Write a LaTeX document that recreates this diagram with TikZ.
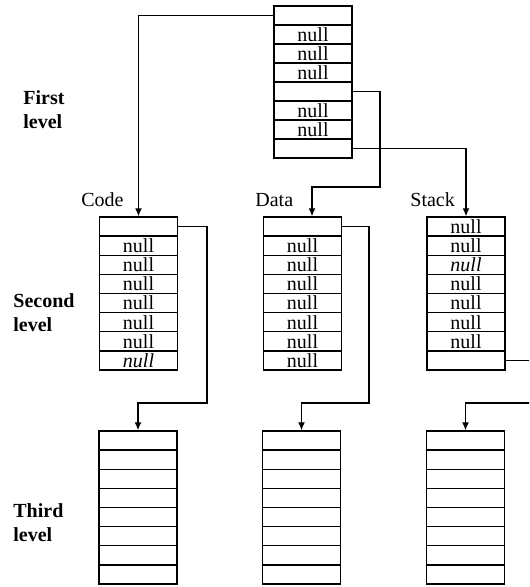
\documentclass[tikz,border=0pt]{standalone}
\usepackage{fontspec}
\setmainfont{Liberation Serif}
\usetikzlibrary{arrows.meta}
\begin{document}
\begin{tikzpicture}[x=0.5pt,y=-0.5pt,
  cell/.style={draw, rectangle, minimum width=39pt, minimum height=9.56pt,
    inner sep=0pt, line width=0.7pt, font=\fontsize{10}{12}\selectfont},
  ptr/.style={draw, line width=0.6pt, -{Latex[length=4pt,width=3.4pt]}},
  lvl/.style={font=\fontsize{10}{12}\selectfont\bfseries, align=left,
    anchor=north west, inner sep=0pt},
  seg/.style={font=\fontsize{10}{12}\selectfont, anchor=base west, inner sep=0pt}]
\useasboundingbox (0,0) rectangle (529,587);
\clip (0,0) rectangle (529,587);

% first-level table
\foreach \i/\t in {1/{},2/null,3/null,4/null,5/{},6/null,7/null,8/{}}
  \node[cell] (top-\i) at (313,{6+19*(\i-0.5)}) {\t};

% second-level tables
\foreach \i/\t in {1/{},2/null,3/null,4/null,5/null,6/null,7/null,8/{\textit{null}}}
  \node[cell] (code-\i) at (138.5,{217+19.125*(\i-0.5)}) {\t};
\foreach \i/\t in {1/{},2/null,3/null,4/null,5/null,6/null,7/null,8/null}
  \node[cell] (data-\i) at (302.5,{217+19.125*(\i-0.5)}) {\t};
\foreach \i/\t in {1/null,2/null,3/{\textit{null}},4/null,5/null,6/null,7/null,8/{}}
  \node[cell] (stack-\i) at (466,{217+19.125*(\i-0.5)}) {\t};

% third-level tables
\foreach \i in {1,...,8}{
  \node[cell] (code3-\i) at (138,{431+19.125*(\i-0.5)}) {};
  \node[cell] (data3-\i) at (301.5,{431+19.125*(\i-0.5)}) {};
  \node[cell] (stack3-\i) at (465.5,{431+19.125*(\i-0.5)}) {};
}

% segment names
\node[seg] (code-lbl) at (81,207) {Code};
\node[seg] (data-lbl) at (255,206) {Data};
\node[seg] (stack-lbl) at (410,207) {Stack};

% level names
\node[lvl] (first) at (23,90) {First\\level};
\node[lvl] (second) at (13,293) {Second\\level};
\node[lvl] (third) at (13,503) {Third\\level};

% bend points of the pointers
\coordinate (dbend) at (380,187);
\coordinate (cbend) at (207,403);
\coordinate (dabend) at (369,403);
\coordinate (sbend) at (545,403);

% pointers
\draw[ptr] (top-1.west) -| (code-1.north);
\draw[ptr] (top-5.east) -| (dbend) -| ([xshift=4.75pt]data-1.north);
\draw[ptr] (top-8.east) -| (stack-1.north);
\draw[ptr] (code-1.east) -| (cbend) -| (code3-1.north);
\draw[ptr] (data-1.east) -| (dabend) -| (data3-1.north);
\draw[ptr] (stack-8.east) -| (sbend) -| (stack3-1.north);
\end{tikzpicture}
\end{document}
